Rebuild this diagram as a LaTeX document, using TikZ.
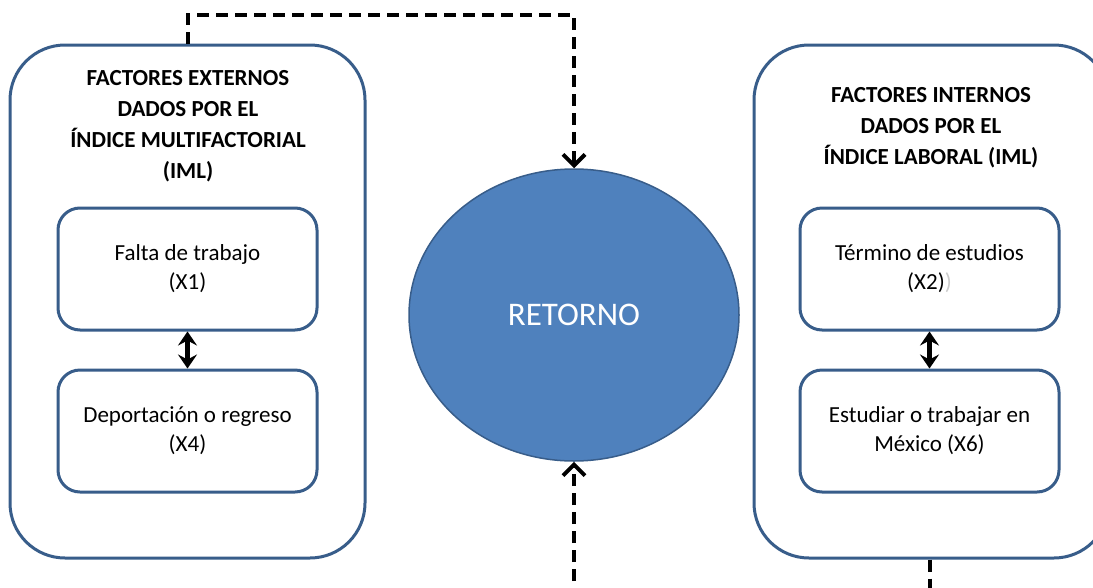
\documentclass[tikz,border=0pt]{standalone}
\usepackage{fontspec}
\setmainfont{Carlito}
\usetikzlibrary{arrows.meta}
\usetikzlibrary{shapes.geometric}

\definecolor{r56g93b138}{RGB}{56,93,138}
\definecolor{r79g129b189}{RGB}{79,129,189}

\tikzset{
  outerbox/.style={draw=r56g93b138, line width=3pt, rounded corners=55pt, fill=white},
  innerbox/.style={draw=r56g93b138, line width=3pt, rounded corners=22pt, fill=white,
                   minimum width=259pt, minimum height=122pt, align=center,
                   font=\fontsize{23}{29}\selectfont},
  titletext/.style={align=center, font=\fontsize{23}{31}\selectfont\bfseries},
  dashline/.style={line width=4pt, dash pattern=on 12pt off 7pt},
  flowline/.style={dashline, -{Straight Barb[length=11pt,width=22pt,line width=4pt]}},
  bothway/.style={line width=5pt, {Stealth[length=14pt,width=19pt,inset=5pt]}-{Stealth[length=14pt,width=19pt,inset=5pt]}}
}

\begin{document}
\begin{tikzpicture}[x=1pt,y=-1pt]
\useasboundingbox (0,0) rectangle (1093,587);
\clip (0,0) rectangle (1093,587);

% Drawing outer boxes
\node [outerbox, minimum width=355pt, minimum height=513pt] (ext) at (187.5,301.5) {};
\node [outerbox, minimum width=355pt, minimum height=513pt] (int) at (931.5,301.5) {};

% Marking titles
\node [titletext] (exttitle) at (188,126) {FACTORES EXTERNOS\\DADOS POR EL\\ÍNDICE MULTIFACTORIAL\\(IML)};
\node [titletext] (inttitle) at (931,128) {FACTORES INTERNOS\\DADOS POR EL\\ÍNDICE LABORAL (IML)};

% Drawing inner boxes
\node [innerbox] (x1) at (187.5,269) {Falta de trabajo\\(X1)};
\node [innerbox] (x4) at (187.5,431) {Deportación o regreso\\(X4)};
\node [innerbox] (x2) at (929.5,269) {Término de estudios\\(X2)\textcolor{black!20}{)}};
\node [innerbox] (x6) at (929.5,431) {Estudiar o trabajar en\\México (X6)};

% Drawing double arrows
\draw [bothway] (x1.south) -- (x4.north);
\draw [bothway] (x2.south) -- (x6.north);

% Drawing ellipse RETORNO
\node [ellipse, draw=r56g93b138, line width=1.5pt, fill=r79g129b189,
       minimum width=330pt, minimum height=292pt, inner sep=0pt,
       text=white, font=\fontsize{33}{40}\selectfont] (ret) at (574,315) {RETORNO};

% Drawing dashed connectors
\coordinate (topbend) at (574,15);
\coordinate (botin) at (574,600);
\coordinate (botout) at (930,600);
\draw [flowline] (ext.north) |- (topbend) -- (ret.north);
\draw [flowline] (botin) -- (ret.south);
\draw [dashline] (int.south -| botout) -- (botout);
\end{tikzpicture}
\end{document}
